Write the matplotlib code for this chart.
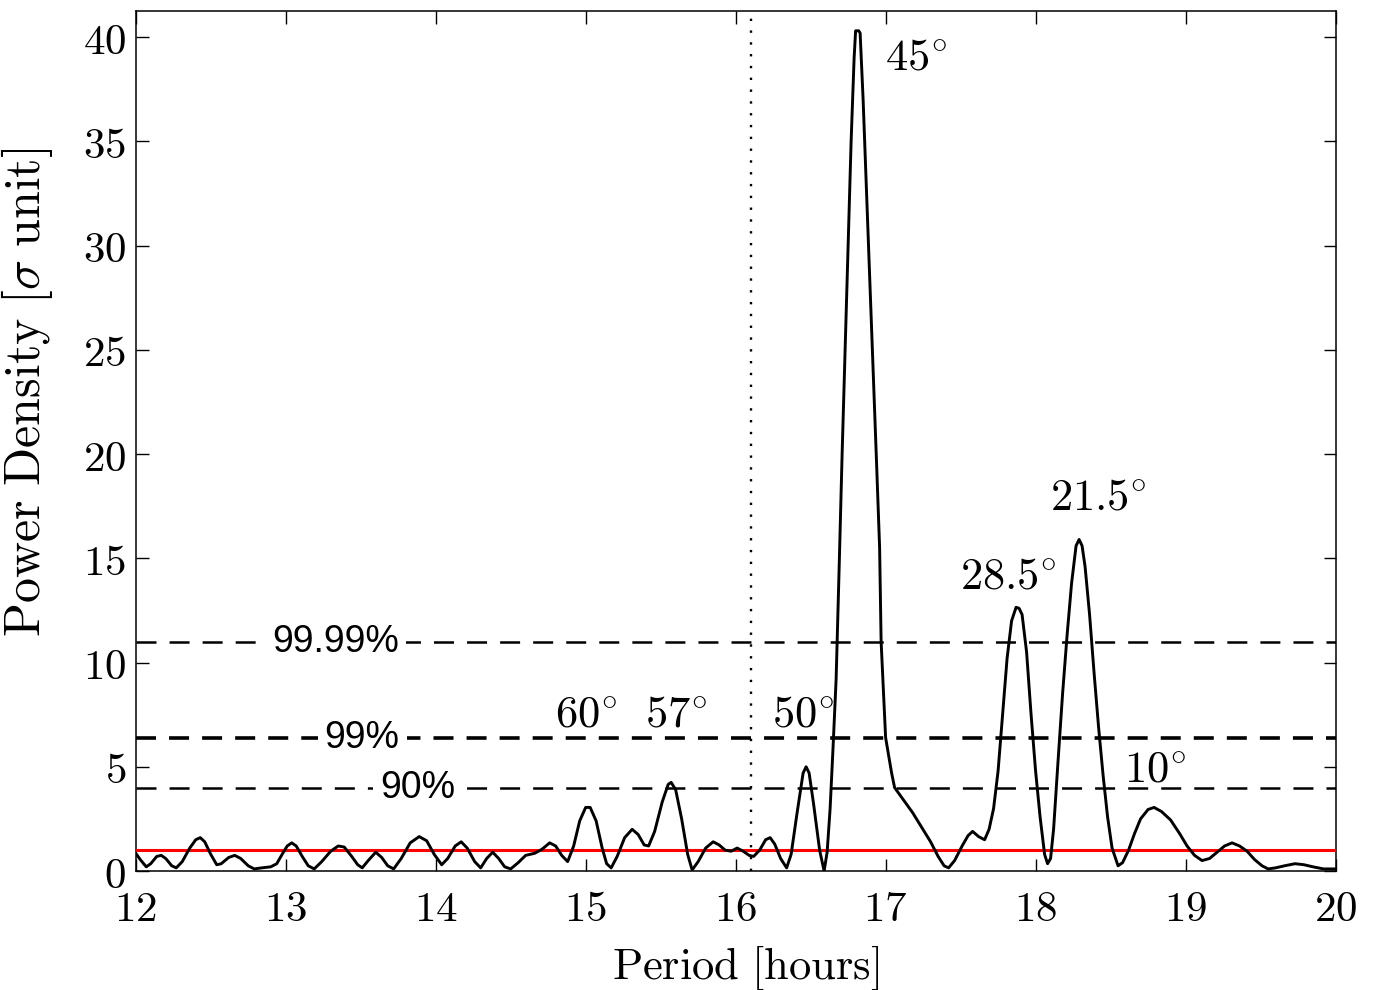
import matplotlib
matplotlib.use('Agg')
import matplotlib.pyplot as plt
import numpy as np
from matplotlib.ticker import FuncFormatter

# periodogram (period in hours, power in sigma units)
period = [12.00, 12.03, 12.07, 12.10, 12.14, 12.17, 12.20, 12.24, 12.27, 12.31,
          12.36, 12.40, 12.43, 12.46, 12.50, 12.54, 12.57, 12.62, 12.66, 12.70,
          12.75, 12.79, 12.84, 12.90, 12.94, 12.98, 13.01, 13.04, 13.07, 13.11,
          13.15, 13.19, 13.24, 13.30, 13.35, 13.39, 13.44, 13.48, 13.51, 13.55,
          13.60, 13.64, 13.68, 13.72, 13.77, 13.83, 13.89, 13.94, 13.99, 14.04,
          14.08, 14.13, 14.17, 14.21, 14.26, 14.30, 14.34, 14.38, 14.42, 14.46,
          14.50, 14.55, 14.60, 14.66, 14.71, 14.76, 14.80, 14.84, 14.88, 14.92,
          14.96, 15.00, 15.03, 15.07, 15.11, 15.14, 15.17, 15.21, 15.26, 15.31,
          15.35, 15.39, 15.42, 15.46, 15.51, 15.55, 15.57, 15.60, 15.64, 15.68,
          15.71, 15.75, 15.80, 15.85, 15.89, 15.93, 15.97, 16.01, 16.05, 16.09,
          16.12, 16.16, 16.20, 16.23, 16.26, 16.30, 16.34, 16.37, 16.41, 16.45,
          16.47, 16.49, 16.52, 16.56, 16.59, 16.61, 16.63, 16.65, 16.67, 16.69,
          16.71, 16.73, 16.75, 16.77, 16.79, 16.80, 16.82, 16.83, 16.85, 16.88,
          16.91, 16.94, 16.96, 16.97, 17.00, 17.04, 17.06, 17.09, 17.13, 17.18,
          17.24, 17.30, 17.35, 17.39, 17.42, 17.46, 17.51, 17.55, 17.58, 17.62,
          17.66, 17.69, 17.72, 17.75, 17.78, 17.81, 17.84, 17.87, 17.89, 17.91,
          17.94, 17.97, 18.00, 18.03, 18.06, 18.08, 18.10, 18.12, 18.15, 18.18,
          18.21, 18.24, 18.27, 18.29, 18.31, 18.33, 18.36, 18.39, 18.42, 18.45,
          18.48, 18.51, 18.55, 18.58, 18.62, 18.66, 18.70, 18.75, 18.79, 18.84,
          18.90, 18.96, 19.01, 19.06, 19.11, 19.16, 19.21, 19.26, 19.31, 19.36,
          19.41, 19.46, 19.51, 19.55, 19.60, 19.66, 19.73, 19.79, 19.85, 19.92,
          20.00]
power = [0.85, 0.55, 0.2, 0.35, 0.7, 0.75, 0.6, 0.25, 0.15, 0.45,
         1.1, 1.5, 1.6, 1.4, 0.8, 0.3, 0.35, 0.65, 0.75, 0.6,
         0.25, 0.1, 0.15, 0.2, 0.35, 0.85, 1.2, 1.35, 1.2, 0.7,
         0.25, 0.1, 0.45, 0.95, 1.2, 1.15, 0.7, 0.3, 0.15, 0.5,
         0.9, 0.65, 0.25, 0.1, 0.6, 1.35, 1.65, 1.45, 0.8, 0.3,
         0.6, 1.2, 1.4, 1.1, 0.45, 0.15, 0.6, 0.9, 0.6, 0.2,
         0.1, 0.4, 0.75, 0.85, 1.05, 1.35, 1.2, 0.75, 0.45, 1.2,
         2.4, 3.05, 3.05, 2.4, 1.1, 0.35, 0.15, 0.7, 1.6, 2.0,
         1.75, 1.25, 1.2, 1.9, 3.3, 4.15, 4.25, 3.9, 2.5, 0.8,
         0.05, 0.45, 1.1, 1.4, 1.25, 1.0, 0.95, 1.1, 0.95, 0.75,
         0.7, 1.0, 1.5, 1.6, 1.3, 0.6, 0.15, 0.8, 2.8, 4.7,
         5.0, 4.7, 3.2, 1.0, 0.0, 0.9, 3.0, 6.0, 9.2, 14.5,
         20.0, 25.0, 30.0, 35.0, 39.0, 40.3, 40.3, 40.2, 37.0, 31.2,
         25.5, 19.5, 15.5, 11.0, 6.4, 4.7, 4.0, 3.7, 3.3, 2.8,
         2.1, 1.4, 0.7, 0.25, 0.15, 0.5, 1.2, 1.7, 1.9, 1.65,
         1.5, 2.0, 3.0, 4.8, 7.5, 10.2, 12.0, 12.65, 12.6, 12.3,
         10.5, 7.5, 4.8, 2.6, 0.8, 0.35, 0.6, 2.0, 5.3, 8.5,
         11.3, 13.8, 15.6, 15.9, 15.6, 14.6, 12.3, 9.5, 6.9, 4.6,
         2.6, 1.1, 0.25, 0.4, 1.0, 1.8, 2.5, 2.95, 3.05, 2.85,
         2.45, 1.8, 1.2, 0.75, 0.5, 0.6, 0.9, 1.2, 1.35, 1.2,
         0.95, 0.55, 0.25, 0.1, 0.15, 0.25, 0.35, 0.3, 0.2, 0.1,
         0.1]

conf_levels = [11.0, 6.4, 4.0]
conf_names = ['99.99%', '99%', '90%']
conf_label_x = [13.33, 13.51, 13.88]

peak_names = ['45', '21.5', '28.5', '10', '60', '57', '50']
peak_x = [17.20, 18.42, 17.82, 18.80, 15.00, 15.60, 16.45]
peak_y = [39.0, 17.9, 14.1, 4.85, 7.5, 7.5, 7.5]

mean_level = 1.0
t_mark = 16.1

plt.rcParams['mathtext.fontset'] = 'cm'
plt.rcParams['font.family'] = 'DejaVu Serif'

fig = plt.figure(figsize=(13.74, 9.9), dpi=100)
ax = fig.add_axes([0.0988, 0.1202, 0.8732, 0.8687])

ax.plot(period, power, color='black', lw=2.1, zorder=4)
ax.axhline(mean_level, color='red', lw=2.2, zorder=3)
ax.axvline(t_mark, color='black', lw=1.7, linestyle=(0, (1, 4)), zorder=2)

for lev, name, lx in zip(conf_levels, conf_names, conf_label_x):
    lw = 2.6 if name == '99%' else 1.8
    ax.axhline(lev, color='black', lw=lw, dashes=(14.4 / lw, 9.4 / lw), zorder=2)
    ax.text(lx, lev, name, ha='center', va='center', fontsize=27,
            family='Liberation Sans', zorder=5,
            bbox=dict(facecolor='white', edgecolor='none', pad=5))

for name, px, py in zip(peak_names, peak_x, peak_y):
    ax.text(px, py, r'$%s^{\circ}$' % name, ha='center', va='center',
            fontsize=32, zorder=5)

ax.set_xlim(12, 20)
ax.set_ylim(0, 41.25)
ax.set_xticks(np.arange(12, 21, 1))
ax.set_yticks(np.arange(0, 41, 5))
fmt = FuncFormatter(lambda v, p: r'$%d$' % v)
ax.xaxis.set_major_formatter(fmt)
ax.yaxis.set_major_formatter(fmt)
ax.tick_params(direction='in', top=True, right=True, length=9, width=1,
               labelsize=31, pad=7)
ax.tick_params(axis='x', pad=12)
for s in ax.spines.values():
    s.set_linewidth(1.1)

ax.set_xlabel(r'$\mathrm{Period\ [hours]}$', fontsize=32)
ax.set_ylabel(r'$\mathrm{Power\ Density\ [}\sigma\mathrm{\ unit]}$', fontsize=36)
ax.xaxis.set_label_coords(0.508, -0.084)
ax.yaxis.set_label_coords(-0.067, 0.557)

fig.savefig('out.png', dpi=100)
